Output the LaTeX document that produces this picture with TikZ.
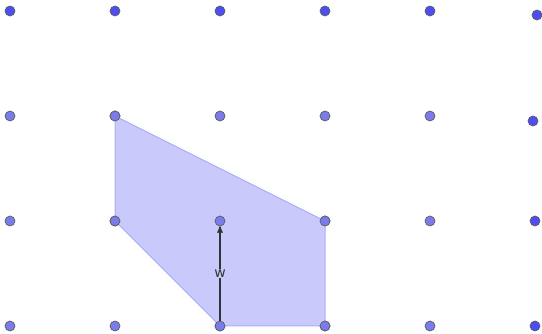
\documentclass[tikz,border=0pt]{standalone}
\usepackage{xcolor}
\usepackage{fontspec}
\setsansfont{DejaVu Sans}
\definecolor{ptdark}{HTML}{4D4DF5}
\definecolor{ptlight}{HTML}{7B7BEE}
\definecolor{regfill}{HTML}{C9C9FB}
\definecolor{regline}{HTML}{ADADF5}
\definecolor{vecgray}{HTML}{333333}
\usepackage{tikz}
\usetikzlibrary{arrows}

\begin{document}
\begin{tikzpicture}[x=1pt,y=-1pt,>=stealth',semithick]
            \tikzstyle{pt}=[circle,inner sep=0pt,minimum size=10pt,draw=vecgray!80,line width=0.7pt]
            \tikzstyle{region}=[fill=regfill,draw=regline,line width=1pt]
            \tikzstyle{vec}=[->,color=vecgray,line width=1.3pt]

            \useasboundingbox (0,0) rectangle (542,334);

            % lattice points
            \foreach \i/\x in {0/10,1/115,2/220,3/325,4/430} {
                \node[pt,fill=ptdark] (p-\i-0) at (\x,11) {};
                \foreach \j/\y in {1/116,2/221,3/326}
                    \node[pt,fill=ptlight] (p-\i-\j) at (\x,\y) {};
            }
            \node[pt,fill=ptdark] (p-5-0) at (537,15) {};
            \node[pt,fill=ptdark] (p-5-1) at (533,121) {};
            \node[pt,fill=ptdark] (p-5-2) at (535,221) {};
            \node[pt,fill=ptdark] (p-5-3) at (535,326) {};

            % shaded region
            \fill[region] (p-1-1.center) -- (p-3-2.center) -- (p-3-3.center)
                -- (p-2-3.center) -- (p-1-2.center) -- cycle;

            % redraw the points on the region
            \foreach \n in {p-1-1,p-3-2,p-3-3,p-2-3,p-1-2,p-2-2}
                \node[pt,fill=ptlight] at (\n) {};

            \path   (p-2-3) edge [vec] node [fill=regfill,inner sep=1pt,text=vecgray,font=\sffamily\fontsize{14}{14}\selectfont] {w} (p-2-2);
        \end{tikzpicture}
\end{document}
